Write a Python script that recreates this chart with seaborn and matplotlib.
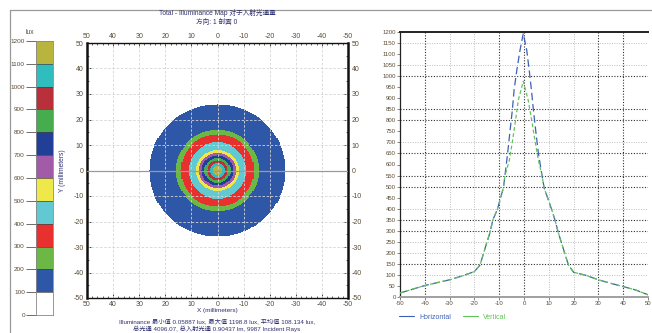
import numpy as np
import pandas as pd
import matplotlib
matplotlib.use("Agg")
import matplotlib.pyplot as plt
import seaborn as sns
from matplotlib.colors import ListedColormap, BoundaryNorm
from matplotlib.lines import Line2D

# --- data ---
# colour bands of the illuminance map (lux)
band_edges = [0, 100, 200, 300, 400, 500, 600, 700, 800, 900, 1000, 1100, 1200]
band_colors = ["#ffffff", "#2f57a8", "#6cb847", "#e8312f", "#62c9d3", "#efe84a",
               "#a25ba6", "#213f96", "#45ad4e", "#b8303a", "#30bdbd", "#b9b43d"]

# outer radius (mm) of the zone at or above each level
ring_levels = [100, 200, 300, 400, 500, 600, 700, 800, 900, 1000, 1100]
ring_radius = [26.0, 15.9, 14.0, 11.0, 8.2, 7.0, 6.0, 5.0, 4.0, 3.0, 1.8]

map_ticks = [-50, -40, -30, -20, -10, 0, 10, 20, 30, 40, 50]

# profiles through the centre (mm, lux)
h_pos = [-50, -45, -40, -35, -30, -25, -20, -17.7, -16.4, -13.7, -12.6, -10.7, -8.3, -7.7,
         -6.6, -5.6, -4.7, -4.0, -2.9, -1.6, -0.3, 1.1, 2.1, 3.0, 3.8, 4.7, 5.8, 7.3, 8.1,
         11.1, 12.5, 13.8, 16.5, 17.9, 20, 25, 30, 35, 40, 45, 50]
h_lux = [18, 35, 52, 65, 78, 95, 115, 145, 195, 293, 348, 398, 495, 548,
         651, 756, 846, 937, 1027, 1118, 1193, 1118, 1027, 937, 846, 756, 651, 548, 495,
         398, 348, 293, 195, 145, 112, 98, 78, 62, 47, 32, 10]
v_pos = [-50, -45, -40, -35, -30, -25, -20, -17.7, -16.4, -13.7, -12.6, -10.7, -8.3, -7.7,
         -5.9, -4.6, -3.4, -2.3, -0.3, 1.7, 3.1, 4.4, 5.8, 7.3, 8.1,
         11.1, 12.5, 13.8, 16.5, 17.9, 20, 25, 30, 35, 40, 45, 50]
v_lux = [18, 35, 52, 65, 78, 95, 115, 145, 195, 293, 348, 398, 495, 548,
         620, 710, 801, 891, 977, 891, 801, 710, 620, 548, 495,
         398, 348, 293, 195, 145, 112, 98, 78, 62, 47, 32, 10]

# grid lines of the profile chart (dark / light dotted, as in the original)
grid_y_dark = [150, 300, 350, 500, 550, 650, 800, 850, 1000]
grid_y_light = [100, 200, 250, 400, 700, 1050, 1150]
grid_x_dark = [-40, -10, 0, 30, 40]
grid_x_light = [-30, -20, 10, 20]

# --- style ---
sns.set_theme(style="white")
plt.rcParams['font.family'] = ['Liberation Sans', 'Noto Sans CJK SC']
plt.rcParams['axes.unicode_minus'] = False

W, H = 652, 333
fig = plt.figure(figsize=(W / 100, H / 100), dpi=100)

def fx(px):
    return px / W

def fy(py):
    return 1 - py / H

tick_col = "#5a4a35"
text_col = "#2e3070"

# panel frame line
fig.add_artist(Line2D([fx(10), 1], [fy(10), fy(10)], color="#9a9a9a", lw=0.9,
                      transform=fig.transFigure))
fig.add_artist(Line2D([fx(10), fx(10)], [0, fy(10)], color="#9a9a9a", lw=0.9,
                      transform=fig.transFigure))

# --- colour bar ---
cax = fig.add_axes([fx(36), fy(315), fx(53) - fx(36), fy(41) - fy(315)])
cax.bar(x=0, height=np.diff(band_edges), bottom=band_edges[:-1], color=band_colors,
        width=1.0, align="center", linewidth=0)
for e in band_edges[1:-1]:
    cax.axhline(e, color="#444444", lw=0.5)
cax.set_xlim(-0.5, 0.5)
cax.set_ylim(0, 1200)
cax.set_xticks([])
cax.set_yticks(band_edges)
cax.tick_params(axis="y", left=True, length=7, width=0.6, color="#555555",
                labelsize=4.6, labelcolor=tick_col, pad=1)
for s in cax.spines.values():
    s.set_color("#888888")
    s.set_linewidth(0.6)
fig.text(fx(30), fy(33), "lux", fontsize=4.8, color=tick_col, ha="center", va="center")

# --- illuminance map ---
ax_map = fig.add_axes([fx(87), fy(298), fx(348) - fx(87), fy(43) - fy(298)])
xs = np.arange(-50, 50.001, 0.4)
X, Y = np.meshgrid(xs, xs)
R = np.hypot(X, Y)
Z = np.zeros_like(R)
for lvl, rad in zip(ring_levels, ring_radius):
    Z[R <= rad] = lvl
cmap = ListedColormap(band_colors)
norm = BoundaryNorm(band_edges, cmap.N)
ax_map.pcolormesh(X, Y, Z, cmap=cmap, norm=norm, shading="nearest", zorder=0)
ax_map.set_xlim(50, -50)
ax_map.set_ylim(-50, 50)
ax_map.set_xticks(map_ticks)
ax_map.set_yticks(map_ticks)
ax_map.set_xticks(np.arange(-50, 51, 2), minor=True)
ax_map.set_yticks(np.arange(-50, 51, 5), minor=True)
for t in map_ticks[1:-1]:
    ax_map.axvline(t, color="#d4d4d4", lw=0.6, ls=(0, (3, 2)), zorder=2)
    ax_map.axhline(t, color="#d4d4d4", lw=0.6, ls=(0, (3, 2)), zorder=2)
ax_map.axhline(0, color="#9a9a9a", lw=0.9, zorder=3)
ax_map.tick_params(which="both", top=True, bottom=True, left=True, right=True,
                   labeltop=True, labelright=True, direction="in", color="#222222")
ax_map.tick_params(which="major", length=3, width=0.6, labelsize=5, labelcolor=tick_col, pad=2.5)
ax_map.tick_params(which="minor", length=1.5, width=0.5)
for side, s in ax_map.spines.items():
    s.set_color("#111111")
    s.set_linewidth(1.8 if side in ("left", "right") else 1.0)
ax_map.set_xlabel("X (millimeters)", fontsize=4.6, color=text_col, labelpad=0)
ax_map.set_ylabel("Y (millimeters)", fontsize=4.8, color=text_col, labelpad=5)

fig.text(fx(217), fy(13), "Total - Illuminance Map 对于入射光通量", fontsize=4.8,
         color=text_col, ha="center", va="center")
fig.text(fx(217), fy(22), "方向: 1 剖面 0", fontsize=4.8, color=text_col,
         ha="center", va="center")
fig.text(fx(217), fy(321), "Illuminance 最小值 0.05887 lux, 最大值 1198.8 lux, 平均值 108.134 lux,",
         fontsize=4.5, color=text_col, ha="center", va="center")
fig.text(fx(217), fy(328.5), "总光通 4096.07, 总入射光通 0.90437 lm, 9987 Incident Rays",
         fontsize=4.5, color=text_col, ha="center", va="center")

# --- profile chart ---
ax_p = fig.add_axes([fx(400), fy(297), fx(648) - fx(400), fy(32) - fy(297)])
df = pd.concat([
    pd.DataFrame({"pos": h_pos, "lux": h_lux, "dir": "Horizontal"}),
    pd.DataFrame({"pos": v_pos, "lux": v_lux, "dir": "Vertical"}),
], ignore_index=True)
line_cols = {"Horizontal": "#3d5fb4", "Vertical": "#62c25a"}
line_dash = {"Horizontal": (6, 3), "Vertical": (3, 2)}
sns.lineplot(data=df, x="pos", y="lux", hue="dir", style="dir", palette=line_cols,
             dashes=line_dash, linewidth=0.9, legend=False, ax=ax_p, zorder=4)

for g in grid_y_light:
    ax_p.axhline(g, color="#bdbdbd", lw=0.7, ls=(0, (1, 1.5)), zorder=1)
for g in grid_y_dark:
    ax_p.axhline(g, color="#303030", lw=0.8, ls=(0, (1, 1.5)), zorder=1)
for g in grid_x_light:
    ax_p.axvline(g, color="#bdbdbd", lw=0.7, ls=(0, (1, 1.5)), zorder=1)
for g in grid_x_dark:
    ax_p.axvline(g, color="#303030", lw=0.8, ls=(0, (1, 1.5)), zorder=1)

ax_p.set_xlim(-50, 50)
ax_p.set_ylim(0, 1200)
ax_p.set_xticks(map_ticks)
ax_p.set_yticks(np.arange(0, 1201, 50))
ax_p.tick_params(axis="both", left=True, bottom=True, length=2, width=0.5,
                 color="#555555", labelsize=4.3, labelcolor=tick_col, pad=1)
ax_p.set_xlabel("")
ax_p.set_ylabel("")
ax_p.spines["right"].set_visible(False)
ax_p.spines["top"].set_color("#222222")
ax_p.spines["top"].set_linewidth(1.4)
ax_p.spines["left"].set_color("#222222")
ax_p.spines["left"].set_linewidth(0.9)
ax_p.spines["bottom"].set_color("#a0a0a0")
ax_p.spines["bottom"].set_linewidth(1.4)

handles = [Line2D([], [], color=line_cols[k], lw=0.8) for k in ["Horizontal", "Vertical"]]
leg = ax_p.legend(handles, ["Horizontal", "Vertical"], loc="upper left",
                  bbox_to_anchor=(-0.03, -0.04), ncol=2, frameon=False, fontsize=5,
                  handlelength=2.2, columnspacing=1.6, handletextpad=0.8)
for txt, k in zip(leg.get_texts(), ["Horizontal", "Vertical"]):
    txt.set_color(line_cols[k])

fig.savefig("out.png", dpi=100)
